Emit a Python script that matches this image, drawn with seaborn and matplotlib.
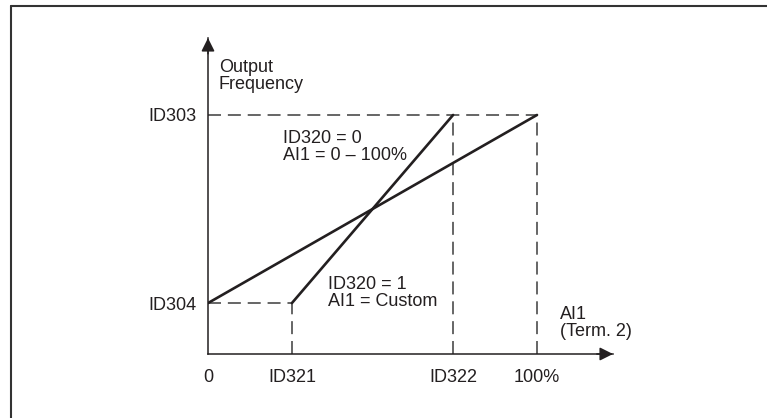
import matplotlib
matplotlib.use("Agg")
import matplotlib.pyplot as plt
from matplotlib.lines import Line2D
import seaborn as sns
import pandas as pd

# ---- data ----
x_ticks = [0, 25.5, 74.5, 100]
x_tick_labels = ["0", "ID321", "ID322", "100%"]
y_ticks = [21.3, 100]
y_tick_labels = ["ID304", "ID303"]

curve_default_x = [0, 100]          # ID320 = 0, AI1 = 0 - 100%
curve_default_y = [21.3, 100]
curve_custom_x = [25.5, 74.5]       # ID320 = 1, AI1 = Custom
curve_custom_y = [21.3, 100]

x_max = 123.1
y_max = 132.2

INK = "#231f20"
GUIDE = "#3c3c3c"

sns.set_theme(style="white")
plt.rcParams["font.family"] = ["Liberation Sans", "DejaVu Sans"]
plt.rcParams["text.color"] = INK

fig = plt.figure(figsize=(7.67, 4.18), dpi=100)
W, H = 767, 418
ax = fig.add_axes([208 / W, (H - 354) / H, (613 - 208) / W, (354 - 38) / H])

df = pd.DataFrame({
    "x": curve_default_x + curve_custom_x,
    "y": curve_default_y + curve_custom_y,
    "curve": ["default"] * 2 + ["custom"] * 2,
})

# dashed guide lines
dash_kw = dict(color=GUIDE, lw=1.1, dashes=(8.5, 4.5), zorder=1)
ax.plot([0, x_ticks[3]], [y_ticks[1], y_ticks[1]], **dash_kw)
ax.plot([0, x_ticks[1]], [y_ticks[0], y_ticks[0]], **dash_kw)
ax.plot([x_ticks[1], x_ticks[1]], [0, y_ticks[0]], **dash_kw)
ax.plot([x_ticks[2], x_ticks[2]], [0, y_ticks[1]], **dash_kw)
ax.plot([x_ticks[3], x_ticks[3]], [0, y_ticks[1]], **dash_kw)

sns.lineplot(data=df, x="x", y="y", hue="curve", palette=[INK, INK],
             legend=False, sort=False, estimator=None, lw=1.9, ax=ax, zorder=3)

ax.set_xlim(0, x_max)
ax.set_ylim(0, y_max)
for s in ["top", "right"]:
    ax.spines[s].set_visible(False)
for s in ["left", "bottom"]:
    ax.spines[s].set_color(INK)
    ax.spines[s].set_linewidth(1.1)

# arrow heads
ax.annotate("", xy=(1.0, 0), xytext=(0.96, 0), xycoords="axes fraction",
            arrowprops=dict(arrowstyle="-|>", color=INK, lw=1.1,
                            mutation_scale=20, shrinkA=0, shrinkB=0))
ax.annotate("", xy=(0, 1.0), xytext=(0, 0.95), xycoords="axes fraction",
            arrowprops=dict(arrowstyle="-|>", color=INK, lw=1.1,
                            mutation_scale=20, shrinkA=0, shrinkB=0))

ax.set_xticks(x_ticks)
ax.set_xticklabels(x_tick_labels)
ax.set_yticks(y_ticks)
ax.set_yticklabels(y_tick_labels)
ax.tick_params(axis="x", length=4, width=1.1, color=INK, pad=7,
               labelsize=13, labelcolor=INK, direction="out")
ax.tick_params(axis="y", length=0, pad=8, labelsize=13, labelcolor=INK)
ax.set_xlabel("")
ax.set_ylabel("")
ax.grid(False)

txt = dict(fontsize=13, color=INK, linespacing=1.0, va="center", ha="left")
ax.text(3.3, 116.3, "Output\nFrequency", **txt)
ax.text(22.8, 86.8, "ID320 = 0\nAI1 = 0 \u2013 100%", **txt)
ax.text(36.5, 25.5, "ID320 = 1\nAI1 = Custom", **txt)
ax.text(107.0, 13.0, "AI1\n(Term. 2)", **txt, clip_on=False)

# partial frame (top and left edges)
fig.add_artist(Line2D([10.5 / W, 1.0], [1 - 5.5 / H, 1 - 5.5 / H],
                      transform=fig.transFigure, color="#333333", lw=1.5))
fig.add_artist(Line2D([10.5 / W, 10.5 / W], [1 - 5.5 / H, 0.0],
                      transform=fig.transFigure, color="#333333", lw=1.5))

fig.savefig("out.png", dpi=100, facecolor="white")
